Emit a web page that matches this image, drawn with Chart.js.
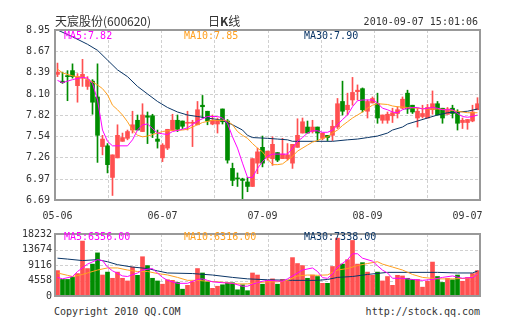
<!DOCTYPE html>
<html>
<head>
<meta charset="utf-8">
<script src="https://cdn.jsdelivr.net/npm/chart.js@4.4.0/dist/chart.umd.min.js"></script>
<style>
body { margin: 0; background: #fff; }
#box { position: relative; width: 505px; height: 330px; overflow: hidden; }
canvas { position: absolute; left: 0; }
.t { position: absolute; white-space: nowrap; font: 10px/12px "DejaVu Sans Mono", monospace; color: #333; }
.cjk { font: 12px/14px "Noto Sans CJK SC", sans-serif; color: #333; }
</style>
</head>
<body>
<div id="box">
  <canvas id="kline" width="505" height="225" style="top:0"></canvas>
  <canvas id="vol" width="505" height="80" style="top:225px"></canvas>

  <div class="t cjk" style="left:55px;top:14px">天宸股份(600620)</div>
  <div class="t cjk" style="left:208px;top:14px">日<b>K</b>线</div>
  <div class="t" style="right:27px;top:16px">2010-09-07 15:01:06</div>

  <div class="t" style="left:64px;top:30px;color:#ff00ff">MA5:7.82</div>
  <div class="t" style="left:184px;top:30px;color:#ffa020">MA10:7.85</div>
  <div class="t" style="left:304px;top:30px;color:#0a3566">MA30:7.90</div>

  <div class="t" style="left:64px;top:231px;color:#ff00ff">MA5:6356.00</div>
  <div class="t" style="left:184px;top:231px;color:#ffa020">MA10:6316.00</div>
  <div class="t" style="left:304px;top:231px;color:#0a3566">MA30:7338.00</div>

  <div class="t" style="left:54px;top:306px">Copyright 2010 QQ.COM</div>
  <div class="t" style="right:25px;top:306px">http://stock.qq.com</div>
</div>
<script>
// daily candles, 2010-05-06 .. 2010-09-07
const dateMarks = { 0: '05-06', 21: '06-07', 41: '07-09', 62: '08-09', 82: '09-07' };

const opens = [8.36, 8.27, 8.34, 8.41, 8.21, 8.31, 8.20, 8.27, 8.06, 7.40,
  7.41, 6.99, 7.25, 7.47, 7.51, 7.62, 7.75, 7.60, 7.81, 7.81,
  7.50, 7.25, 7.38, 7.62, 7.75, 7.74, 7.71, 7.71, 7.69, 7.95,
  7.87, 7.70, 7.70, 7.90, 7.74, 7.11, 6.98, 6.97, 6.93, 6.87,
  7.18, 7.39, 7.25, 7.24, 7.32, 7.24, 7.24, 7.18, 7.39, 7.58,
  7.66, 7.60, 7.66, 7.51, 7.55, 7.55, 7.66, 8.00, 7.89, 8.02,
  8.13, 8.17, 7.87, 7.98, 7.97, 7.75, 7.75, 7.81, 7.84, 7.91,
  8.11, 7.95, 7.78, 7.80, 7.78, 7.89, 7.97, 7.91, 7.83, 7.91,
  7.86, 7.72, 7.72, 7.74, 7.89];
const highs = [8.51, 8.39, 8.41, 8.50, 8.37, 8.56, 8.33, 8.29, 8.50, 7.55,
  7.44, 7.29, 7.69, 7.58, 7.62, 7.87, 7.82, 7.97, 7.86, 7.83,
  7.62, 7.44, 7.63, 7.83, 7.82, 7.74, 7.87, 7.75, 8.00, 8.08,
  7.87, 7.82, 7.78, 7.90, 7.76, 7.18, 7.05, 6.98, 6.99, 7.24,
  7.38, 7.54, 7.34, 7.53, 7.32, 7.51, 7.44, 7.43, 7.77, 7.78,
  7.74, 7.75, 7.66, 7.58, 7.55, 7.75, 8.04, 8.27, 8.11, 8.32,
  8.22, 8.18, 8.02, 8.06, 8.11, 7.82, 7.86, 7.91, 7.93, 8.06,
  8.15, 7.95, 7.91, 7.95, 7.96, 8.14, 8.00, 7.91, 7.92, 7.95,
  7.89, 7.78, 7.76, 7.95, 8.05];
const lows = [8.33, 8.24, 8.01, 8.31, 7.99, 8.20, 8.16, 7.83, 7.19, 7.29,
  7.05, 6.75, 7.25, 7.47, 7.49, 7.58, 7.62, 7.60, 7.44, 7.52,
  7.38, 7.20, 7.36, 7.62, 7.60, 7.64, 7.62, 7.40, 7.69, 7.78,
  7.69, 7.69, 7.58, 7.70, 7.18, 6.88, 6.87, 6.69, 6.80, 6.87,
  7.04, 7.13, 7.22, 7.15, 7.20, 7.24, 7.22, 7.11, 7.39, 7.58,
  7.58, 7.58, 7.47, 7.49, 7.48, 7.48, 7.64, 7.82, 7.82, 7.95,
  8.02, 7.86, 7.78, 7.98, 7.71, 7.71, 7.71, 7.72, 7.78, 7.90,
  7.84, 7.84, 7.66, 7.78, 7.78, 7.83, 7.82, 7.71, 7.83, 7.78,
  7.62, 7.64, 7.63, 7.73, 7.89];
const closes = [8.39, 8.25, 8.33, 8.33, 8.33, 8.36, 8.29, 7.99, 7.55, 7.50,
  7.16, 7.29, 7.55, 7.52, 7.60, 7.69, 7.62, 7.82, 7.79, 7.58,
  7.47, 7.42, 7.63, 7.75, 7.63, 7.67, 7.72, 7.72, 7.89, 7.93,
  7.74, 7.75, 7.75, 7.73, 7.22, 6.95, 6.97, 6.95, 6.87, 7.24,
  7.33, 7.18, 7.34, 7.43, 7.22, 7.30, 7.29, 7.43, 7.55, 7.73,
  7.58, 7.66, 7.58, 7.58, 7.52, 7.67, 7.97, 7.87, 7.95, 8.12,
  8.15, 7.89, 8.00, 8.04, 7.78, 7.82, 7.83, 7.85, 7.89, 8.03,
  7.90, 7.86, 7.87, 7.84, 7.92, 7.97, 7.82, 7.78, 7.90, 7.84,
  7.71, 7.75, 7.76, 7.86, 7.97];
const volumes = [7470, 4870, 4870, 5470, 6600, 16150, 8075, 9380, 12680, 6170,
  7030, 5210, 7030, 5210, 4430, 8510, 6080, 11550, 8940, 5210,
  4430, 3470, 4780, 4600, 3990, 2000, 3130, 4170, 8075, 6770,
  4170, 2260, 2870, 3300, 3910, 3910, 1820, 3300, 1560, 6770,
  6170, 3470, 4600, 5040, 3470, 4860, 4340, 11290, 9550, 8940,
  5210, 6170, 5730, 3730, 3730, 8680, 17010, 9380, 10680, 16330,
  9380, 9810, 7030, 6080, 7030, 4430, 5730, 3130, 6080, 5900,
  5210, 4860, 4860, 2600, 4340, 9980, 5730, 3990, 5210, 4770,
  6170, 4340, 5470, 6600, 7470];

// moving averages read at [day, value]
const priceMa5 = [[0, 8.28], [1, 8.25], [3, 8.29], [5, 8.32], [6, 8.31], [7, 8.24], [8, 8.02], [9, 7.62],
  [10, 7.47], [11, 7.41], [14, 7.41], [15, 7.49], [16, 7.62], [17, 7.69], [18, 7.70], [19, 7.64],
  [20, 7.58], [21, 7.57], [22, 7.56], [23, 7.60], [25, 7.63], [26, 7.65], [28, 7.74], [30, 7.80],
  [32, 7.80], [33, 7.78], [34, 7.71], [35, 7.53], [36, 7.38], [37, 7.18], [38, 6.99], [39, 6.99],
  [40, 7.11], [41, 7.20], [42, 7.27], [43, 7.30], [46, 7.30], [47, 7.38], [48, 7.47], [49, 7.52],
  [50, 7.58], [51, 7.61], [52, 7.61], [53, 7.59], [54, 7.59], [55, 7.62], [56, 7.69], [57, 7.76],
  [58, 7.82], [59, 7.93], [60, 8.01], [61, 8.02], [63, 8.02], [64, 7.98], [65, 7.91], [66, 7.89],
  [67, 7.86], [68, 7.85], [69, 7.89], [70, 7.91], [71, 7.92], [72, 7.92], [73, 7.90], [74, 7.91],
  [75, 7.92], [76, 7.91], [77, 7.89], [79, 7.89], [80, 7.84], [81, 7.80], [82, 7.79], [83, 7.80], [84, 7.82]];
const priceMa10 = [[0, 8.43], [1, 8.38], [3, 8.34], [5, 8.32], [6, 8.29], [7, 8.26], [8, 8.22], [9, 8.17],
  [10, 8.09], [11, 7.95], [12, 7.89], [13, 7.82], [14, 7.73], [15, 7.62], [16, 7.55], [17, 7.53],
  [18, 7.54], [19, 7.56], [20, 7.58], [21, 7.60], [22, 7.61], [25, 7.62], [26, 7.63], [27, 7.66],
  [28, 7.69], [29, 7.72], [31, 7.75], [33, 7.75], [34, 7.74], [35, 7.69], [36, 7.60], [37, 7.55],
  [38, 7.51], [39, 7.44], [40, 7.38], [41, 7.33], [42, 7.24], [43, 7.16], [44, 7.16], [45, 7.17],
  [46, 7.22], [47, 7.27], [48, 7.34], [50, 7.42], [51, 7.46], [52, 7.48], [53, 7.51], [54, 7.53],
  [55, 7.58], [56, 7.62], [57, 7.68], [58, 7.73], [59, 7.78], [60, 7.82], [61, 7.86], [62, 7.91],
  [63, 7.95], [64, 7.97], [66, 7.96], [67, 7.94], [68, 7.93], [70, 7.92], [72, 7.91], [74, 7.90],
  [76, 7.90], [78, 7.89], [80, 7.87], [82, 7.85], [84, 7.85]];
const priceMa30 = [[0, 8.95], [3, 8.86], [6, 8.76], [8, 8.68], [10, 8.55], [12, 8.42], [14, 8.33],
  [16, 8.20], [18, 8.10], [20, 8.00], [22, 7.92], [24, 7.86], [26, 7.82], [28, 7.80], [30, 7.78],
  [33, 7.75], [35, 7.69], [37, 7.62], [38, 7.55], [39, 7.52], [42, 7.51], [44, 7.50], [46, 7.49],
  [47, 7.47], [55, 7.47], [58, 7.49], [60, 7.50], [62, 7.52], [64, 7.54], [66, 7.58], [67, 7.62],
  [69, 7.66], [70, 7.70], [72, 7.74], [74, 7.78], [76, 7.82], [78, 7.85], [80, 7.86], [82, 7.87], [84, 7.90]];

const volMa5 = [[0, 5470], [1, 5040], [3, 5730], [4, 7200], [6, 9380], [8, 10680], [9, 10420], [10, 8510],
  [11, 7400], [13, 5900], [14, 5730], [16, 6770], [17, 7640], [19, 8080], [20, 6770], [21, 5470],
  [22, 4600], [24, 3730], [26, 3730], [28, 4860], [29, 5040], [30, 4600], [31, 4170], [33, 3910],
  [35, 3730], [37, 2870], [38, 2870], [39, 3500], [40, 3910], [41, 4340], [42, 4600], [44, 4430],
  [45, 4340], [46, 5040], [48, 6770], [49, 7640], [51, 8250], [52, 7210], [53, 5400], [54, 5200],
  [55, 6500], [56, 8510], [58, 10680], [59, 12420], [60, 12420], [61, 11120], [63, 10250], [64, 8900],
  [65, 7600], [66, 6770], [67, 5210], [69, 5210], [71, 4860], [73, 4600], [75, 4860], [77, 5470],
  [79, 5900], [81, 5210], [83, 5470], [84, 6356]];
const volMa10 = [[0, 6770], [2, 6080], [3, 5730], [4, 6000], [5, 6340], [6, 6770], [8, 7640], [10, 8250],
  [12, 8250], [14, 7640], [16, 7210], [18, 7210], [20, 6600], [22, 6200], [24, 5470], [26, 4600],
  [28, 4600], [30, 4340], [32, 4170], [34, 3910], [36, 3560], [38, 3560], [40, 3910], [42, 4170],
  [44, 4170], [46, 4600], [48, 5900], [50, 6170], [52, 6080], [54, 6200], [56, 7640], [58, 8080],
  [60, 8940], [62, 9550], [64, 10080], [65, 9380], [67, 8510], [69, 7640], [71, 6340], [73, 5470],
  [76, 5040], [79, 5040], [82, 5210], [84, 6316]];
const volMa30 = [[0, 11120], [2, 10860], [5, 10420], [8, 10680], [10, 10080], [12, 9210], [15, 8510],
  [18, 8080], [20, 7380], [22, 6770], [27, 6600], [31, 6170], [35, 5470], [38, 5040], [42, 4770],
  [47, 4600], [52, 4600], [54, 4860], [56, 5470], [59, 5730], [62, 6340], [66, 6950], [76, 6950],
  [80, 6770], [83, 6770], [84, 7338]];

const priceTicks = [8.95, 8.67, 8.39, 8.10, 7.82, 7.54, 7.26, 6.97, 6.69];
const volumeTicks = [18232, 13674, 9116, 4558, 0];

const RED = '#ff5050';
const GREEN = '#008c00';
const C_MA5 = '#ff00ff';
const C_MA10 = '#ffa020';
const C_MA30 = '#0a3566';
const MONO = { family: 'DejaVu Sans Mono', size: 10 };

const days = opens.length;
const labels = opens.map((o, i) => dateMarks[i] || '');
const candleColors = opens.map((o, i) => closes[i] >= o ? RED : GREEN);

function spread(pairs) {
  const out = new Array(days).fill(null);
  pairs.forEach(([i, v]) => { out[i] = v; });
  return out;
}

function maLine(label, pairs, color) {
  return {
    type: 'line', label, data: spread(pairs), borderColor: color,
    borderWidth: 1, pointRadius: 0, spanGaps: true, tension: 0, order: 0
  };
}

// dashed grid + grey frame, grid split into 8 columns
const gridFrame = {
  id: 'gridFrame',
  beforeDatasetsDraw(chart) {
    const { ctx, chartArea: a, scales: { y } } = chart;
    ctx.save();
    ctx.strokeStyle = '#d0d0d0';
    ctx.lineWidth = 1;
    ctx.setLineDash([3, 2]);
    ctx.beginPath();
    y.ticks.forEach(t => {
      const py = Math.round(y.getPixelForValue(t.value)) + 0.5;
      if (py <= a.top + 2 || py >= a.bottom - 2) return;
      ctx.moveTo(a.left, py);
      ctx.lineTo(a.right, py);
    });
    for (let k = 1; k < 8; k++) {
      const px = Math.round(a.left + a.width * k / 8) + 0.5;
      ctx.moveTo(px, a.top);
      ctx.lineTo(px, a.bottom);
    }
    ctx.stroke();
    ctx.restore();
  },
  afterDatasetsDraw(chart) {
    const { ctx, chartArea: a } = chart;
    ctx.save();
    ctx.strokeStyle = '#999';
    ctx.lineWidth = 2;
    ctx.strokeRect(a.left, a.top, a.right - a.left, a.bottom - a.top);
    ctx.restore();
  }
};

function yAxis(min, max, tickList, fmt, pad) {
  return {
    min, max,
    afterBuildTicks: s => { s.ticks = tickList.map(v => ({ value: v })); },
    afterFit: s => { s.width = 55; },
    ticks: { font: MONO, color: '#333', padding: pad, callback: fmt },
    grid: { display: false, drawTicks: false },
    border: { display: false }
  };
}

new Chart(document.getElementById('kline'), {
  type: 'bar',
  data: {
    labels,
    datasets: [
      maLine('MA5', priceMa5, C_MA5),
      maLine('MA10', priceMa10, C_MA10),
      maLine('MA30', priceMa30, C_MA30),
      {
        label: 'body', data: opens.map((o, i) => [o, closes[i]]),
        backgroundColor: candleColors, barThickness: 4, grouped: false, minBarLength: 1, order: 1
      },
      {
        label: 'wick', data: lows.map((l, i) => [l, highs[i]]),
        backgroundColor: candleColors, barThickness: 1, grouped: false, order: 2
      }
    ]
  },
  options: {
    responsive: false,
    animation: false,
    layout: { padding: { left: 0, right: 25, top: 30, bottom: 0 } },
    plugins: { legend: { display: false }, tooltip: { enabled: false } },
    scales: {
      x: {
        offset: true,
        afterFit: s => { s.height = 25; },
        ticks: { autoSkip: false, maxRotation: 0, minRotation: 0, font: MONO, color: '#333', padding: 10 },
        grid: { display: false, drawTicks: false },
        border: { display: false }
      },
      y: yAxis(6.69, 8.95, priceTicks, v => v.toFixed(2), 5)
    }
  },
  plugins: [gridFrame]
});

new Chart(document.getElementById('vol'), {
  type: 'bar',
  data: {
    labels,
    datasets: [
      maLine('MA5', volMa5, C_MA5),
      maLine('MA10', volMa10, C_MA10),
      maLine('MA30', volMa30, C_MA30),
      {
        label: 'volume', data: volumes,
        backgroundColor: candleColors, barThickness: 4, order: 1
      }
    ]
  },
  options: {
    responsive: false,
    animation: false,
    layout: { padding: { left: 0, right: 25, top: 6, bottom: 4 } },
    plugins: { legend: { display: false }, tooltip: { enabled: false } },
    scales: {
      x: { display: false, offset: true },
      y: yAxis(0, 18232, volumeTicks, v => String(v), 3)
    }
  },
  plugins: [gridFrame]
});
</script>
</body>
</html>
